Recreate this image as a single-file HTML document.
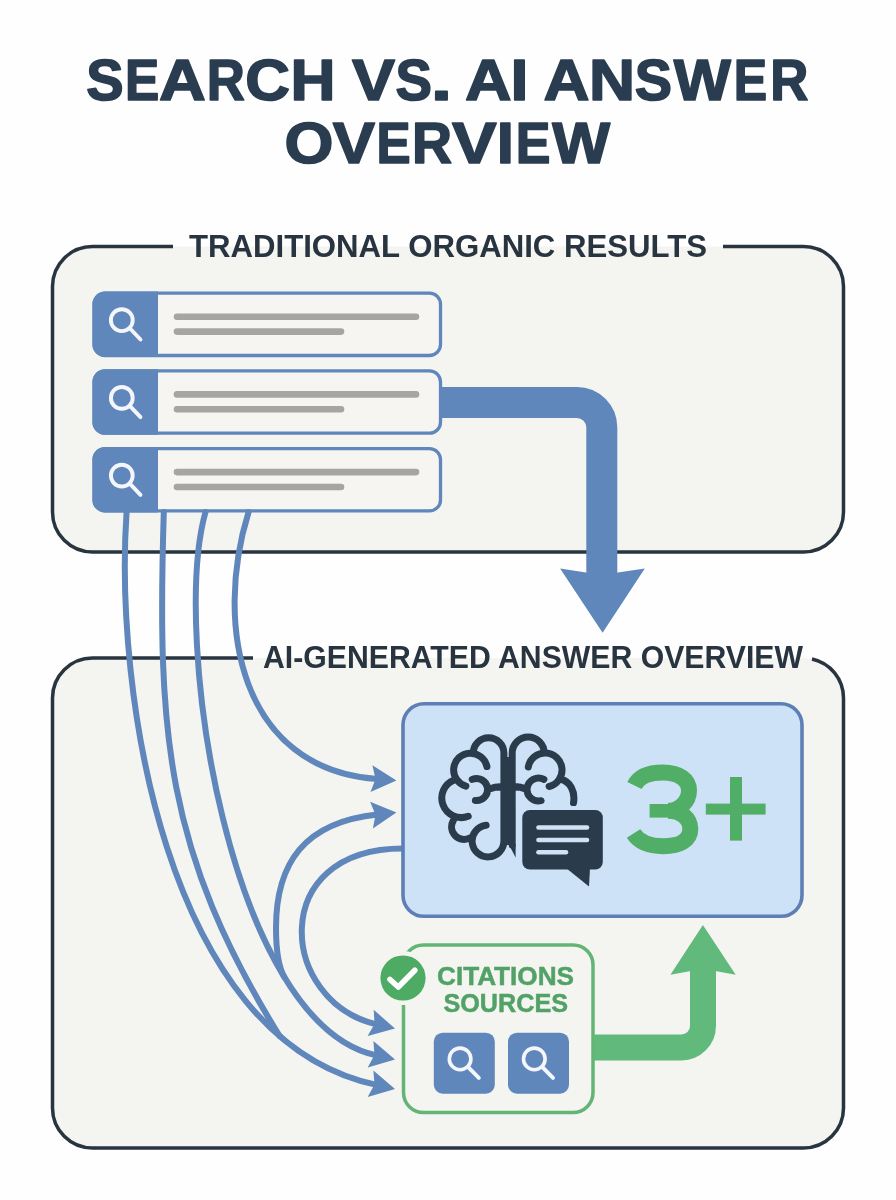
<!DOCTYPE html>
<html><head><meta charset="utf-8">
<style>
html,body{margin:0;padding:0;background:#fefefe;}
body{width:896px;height:1200px;overflow:hidden;position:relative;font-family:"Liberation Sans",sans-serif;}
svg{position:absolute;left:0;top:0;will-change:transform;}
.bl{fill:none;stroke:#5f87bc;stroke-width:6;stroke-linecap:round;}
.ah{fill:#5f87bc;}
text{font-family:"Liberation Sans",sans-serif;font-weight:bold;}
</style></head>
<body>
<svg width="896" height="1200" viewBox="0 0 896 1200">
<!-- Title -->
<!--TITLE-->
<text transform="translate(86.18 100.00) scale(0.9768 1)" font-size="57.41" fill="#2a3d50" stroke="#2a3d50" stroke-width="1.60" stroke-linejoin="round">S</text>
<text transform="translate(125.07 100.00) scale(0.8941 1)" font-size="57.41" fill="#2a3d50" stroke="#2a3d50" stroke-width="1.60" stroke-linejoin="round">E</text>
<text transform="translate(158.89 100.00) scale(1.1293 1)" font-size="57.41" fill="#2a3d50" stroke="#2a3d50" stroke-width="1.60" stroke-linejoin="round">A</text>
<text transform="translate(206.67 100.00) scale(0.9192 1)" font-size="57.41" fill="#2a3d50" stroke="#2a3d50" stroke-width="1.60" stroke-linejoin="round">R</text>
<text transform="translate(245.16 100.00) scale(1.0789 1)" font-size="57.41" fill="#2a3d50" stroke="#2a3d50" stroke-width="1.60" stroke-linejoin="round">C</text>
<text transform="translate(290.38 100.00) scale(1.0858 1)" font-size="57.41" fill="#2a3d50" stroke="#2a3d50" stroke-width="1.60" stroke-linejoin="round">H</text>
<text transform="translate(352.06 100.00) scale(1.1250 1)" font-size="57.41" fill="#2a3d50" stroke="#2a3d50" stroke-width="1.60" stroke-linejoin="round">V</text>
<text transform="translate(395.48 100.00) scale(0.9521 1)" font-size="57.41" fill="#2a3d50" stroke="#2a3d50" stroke-width="1.60" stroke-linejoin="round">S</text>
<text transform="translate(430.86 100.00) scale(1.3454 1)" font-size="57.41" fill="#2a3d50" stroke="#2a3d50" stroke-width="1.60" stroke-linejoin="round">.</text>
<text transform="translate(465.09 100.00) scale(1.1241 1)" font-size="57.41" fill="#2a3d50" stroke="#2a3d50" stroke-width="1.60" stroke-linejoin="round">A</text>
<text transform="translate(510.38 100.00) scale(1.1245 1)" font-size="57.41" fill="#2a3d50" stroke="#2a3d50" stroke-width="1.60" stroke-linejoin="round">I</text>
<text transform="translate(543.61 100.00) scale(1.1111 1)" font-size="57.41" fill="#2a3d50" stroke="#2a3d50" stroke-width="1.60" stroke-linejoin="round">A</text>
<text transform="translate(589.03 100.00) scale(1.1110 1)" font-size="57.41" fill="#2a3d50" stroke="#2a3d50" stroke-width="1.60" stroke-linejoin="round">N</text>
<text transform="translate(634.69 100.00) scale(0.9739 1)" font-size="57.41" fill="#2a3d50" stroke="#2a3d50" stroke-width="1.60" stroke-linejoin="round">S</text>
<text transform="translate(673.74 100.00) scale(1.0540 1)" font-size="57.41" fill="#2a3d50" stroke="#2a3d50" stroke-width="1.60" stroke-linejoin="round">W</text>
<text transform="translate(733.71 100.00) scale(0.8708 1)" font-size="57.41" fill="#2a3d50" stroke="#2a3d50" stroke-width="1.60" stroke-linejoin="round">E</text>
<text transform="translate(770.27 100.00) scale(0.9192 1)" font-size="57.41" fill="#2a3d50" stroke="#2a3d50" stroke-width="1.60" stroke-linejoin="round">R</text>
<text transform="translate(284.47 163.10) scale(1.1108 1)" font-size="56.69" fill="#2a3d50" stroke="#2a3d50" stroke-width="1.60" stroke-linejoin="round">O</text>
<text transform="translate(332.67 163.10) scale(1.1179 1)" font-size="56.69" fill="#2a3d50" stroke="#2a3d50" stroke-width="1.60" stroke-linejoin="round">V</text>
<text transform="translate(376.58 163.10) scale(0.9024 1)" font-size="56.69" fill="#2a3d50" stroke="#2a3d50" stroke-width="1.60" stroke-linejoin="round">E</text>
<text transform="translate(411.89 163.10) scale(0.9782 1)" font-size="56.69" fill="#2a3d50" stroke="#2a3d50" stroke-width="1.60" stroke-linejoin="round">R</text>
<text transform="translate(451.94 163.10) scale(1.1800 1)" font-size="56.69" fill="#2a3d50" stroke="#2a3d50" stroke-width="1.60" stroke-linejoin="round">V</text>
<text transform="translate(496.67 163.10) scale(1.0900 1)" font-size="56.69" fill="#2a3d50" stroke="#2a3d50" stroke-width="1.60" stroke-linejoin="round">I</text>
<text transform="translate(515.72 163.10) scale(0.9181 1)" font-size="56.69" fill="#2a3d50" stroke="#2a3d50" stroke-width="1.60" stroke-linejoin="round">E</text>
<text transform="translate(552.34 163.10) scale(1.0807 1)" font-size="56.69" fill="#2a3d50" stroke="#2a3d50" stroke-width="1.60" stroke-linejoin="round">W</text>
<!--/TITLE-->

<!-- Panel 1 -->
<rect x="52.5" y="246.5" width="791" height="305.5" rx="40" fill="#f4f4f0"/>
<path d="M173 246.5 H92.5 A40 40 0 0 0 52.5 286.5 V512 A40 40 0 0 0 92.5 552 H803.5 A40 40 0 0 0 843.5 512 V286.5 A40 40 0 0 0 803.5 246.5 H723" fill="none" stroke="#28343f" stroke-width="3.5"/>
<text x="189" y="257" font-size="31" fill="#28343f" textLength="518" lengthAdjust="spacingAndGlyphs">TRADITIONAL ORGANIC RESULTS</text>

<!-- Panel 2 -->
<rect x="52.5" y="658" width="791" height="490" rx="40" fill="#f4f4f0"/>
<path d="M253 658 H92.5 A40 40 0 0 0 52.5 698 V1108 A40 40 0 0 0 92.5 1148 H803.5 A40 40 0 0 0 843.5 1108 V698 A40 40 0 0 0 812 659" fill="none" stroke="#28343f" stroke-width="3.5"/>
<text x="263" y="667.5" font-size="30.5" fill="#28343f" textLength="540" lengthAdjust="spacingAndGlyphs">AI-GENERATED ANSWER OVERVIEW</text>

<!-- Search rows -->
<g id="row">
<rect x="94" y="293.2" width="346.5" height="62.3" rx="11" fill="#f6f5f2" stroke="#5f87bc" stroke-width="3.3"/>
<path d="M105 291.5 H158 V357 H105 A12.5 12.5 0 0 1 92.5 344.5 V304 A12.5 12.5 0 0 1 105 291.5Z" fill="#5f87bc"/>
<circle cx="121.8" cy="320.2" r="10.9" fill="none" stroke="#f4f6fb" stroke-width="3.9"/>
<line x1="130.5" y1="329" x2="140.5" y2="339.5" stroke="#f4f6fb" stroke-width="3.9" stroke-linecap="round"/>
<line x1="177" y1="316.7" x2="416" y2="316.7" stroke="#a5a5a3" stroke-width="6.6" stroke-linecap="round"/>
<line x1="177" y1="331.6" x2="341" y2="331.6" stroke="#a5a5a3" stroke-width="6.6" stroke-linecap="round"/>
</g>
<use href="#row" y="77.7"/>
<use href="#row" y="155.4"/>


<!--CURVES-->
<path d="M126.6 512.0 C114.4 686.5 162.8 1039.5 376.4 1084.9" class="bl"/>
<path d="M163.8 512.0 C157.0 732.7 165.3 850.8 279.6 1036.1" class="bl"/>
<path d="M205.5 512.0 C170.8 635.7 229.6 1024.2 376.4 1055.4" class="bl"/>
<path d="M284.9 978.1 C277.6 966.1 276.0 948.0 276.0 928.0 C276.0 862.8 304.6 822.1 377.5 814.5" class="bl" style="stroke-linecap:butt"/>
<path d="M403.0 848.5 C266.2 848.5 278.9 1001.8 376.5 1024.3" class="bl"/>
<path d="M248.6 512.0 C213.5 624.7 240.2 769.5 377.4 779.1" class="bl"/>
<path d="M395.0 1088.9 L367.7 1096.9 L374.5 1084.5 L373.4 1070.5 Z" class="ah"/>
<path d="M395.0 1059.4 L367.7 1067.4 L374.5 1055.0 L373.4 1041.0 Z" class="ah"/>
<path d="M396.4 812.5 L372.9 828.5 L375.5 814.7 L370.1 801.7 Z" class="ah"/>
<path d="M395.0 1028.6 L367.6 1036.1 L374.5 1023.9 L373.7 1009.8 Z" class="ah"/>
<path d="M396.4 780.4 L370.5 792.1 L375.5 778.9 L372.4 765.2 Z" class="ah"/>
<!--/CURVES-->

<!-- Big blue arrow -->
<path d="M440 402.5 H576.8 A25 25 0 0 1 601.8 427.5 V575" fill="none" stroke="#5f87bc" stroke-width="31"/>
<path d="M560.1 568.4 L586 572.6 L617.8 572.6 L644.8 568.4 L602.6 632.7 Z" fill="#5f87bc"/>

<!-- AI box -->
<rect x="403" y="703.8" width="399" height="212.5" rx="21" fill="#cee2f7" stroke="#5d7fb5" stroke-width="3.6"/>

<!--BRAIN-->
<g fill="none" stroke="#2a3b4b" stroke-width="7" stroke-linecap="round">
<path d="M473.3 753 A15.3 15.3 0 0 1 503.9 753 L503.9 841 A15.9 15.9 0 1 1 486.1 825.2
M486.9 766.5 A16.8 16.8 0 1 0 465.9 786.1
M454.2 779.9 A19.5 19.5 0 0 0 468.2 816.3
M453.2 820.8 A12.5 12.5 0 0 0 470.2 837.8
M472.2 779.4 A11.0 11.0 0 1 1 475.4 800.4
M487.5 789.5 Q495 786.5 503 786.5
M512.2 845 L512.2 753 A16 16 0 0 1 544.2 753
M528.3 767.0 A17.0 17.0 0 1 1 549.1 786.5
M560.5 779 C570 781.5 575.5 791 573.5 803
M543.9 779.3 A11.5 11.5 0 1 0 541.1 800.7
M527 789.5 Q521 786.5 513 786.5"/>
</g>
<rect x="503.9" y="757" width="8.3" height="88" fill="#2a3b4b"/>
<path d="M508.6 844 L515.7 844 L515.6 857.5 Z" fill="#2a3b4b"/>
<rect x="518.5" y="806" width="88" height="67.5" rx="11" fill="#cee2f7"/>
<rect x="522.3" y="810" width="80.5" height="59.5" rx="7.5" fill="#2a3b4b"/>
<path d="M566 868 L590 868 L589 886.5 Z" fill="#2a3b4b"/>
<g stroke="#cfe2f6" stroke-width="4.6" stroke-linecap="round">
<line x1="538.5" y1="827.5" x2="587" y2="827.5"/>
<line x1="538.5" y1="840" x2="587" y2="840"/>
<line x1="538.5" y1="852.3" x2="566" y2="852.3"/>
</g>
<!--/BRAIN-->
<!-- 3+ -->
<path d="M634.5 785.5 C639 776.5 650 772.6 663 772.6 C679.5 772.6 689 780 689 790.5 C689 802 679 810.8 668 810.8 M668 810.8 C682 810.8 690.3 819 690.3 829 C690.3 840 680 846.2 663 846.2 C650 846.2 639 842 633.5 833.5" fill="none" stroke="#50ae66" stroke-width="16"/>
<rect x="649.6" y="804" width="22" height="13.6" fill="#50ae66"/>
<rect x="730" y="777" width="12" height="63.6" fill="#50ae66"/>
<rect x="705.8" y="803.6" width="59.8" height="11" fill="#50ae66"/>

<!-- Citations box -->
<rect x="403.5" y="945" width="189.5" height="167.5" rx="20" fill="#f4f4f0" stroke="#62b575" stroke-width="3.5"/>
<circle cx="403" cy="978" r="22.6" fill="#4dab64" stroke="#f4f4f0" stroke-width="9" paint-order="stroke"/>
<polyline points="390,979.5 398.3,987 414.8,970.3" fill="none" stroke="#fff" stroke-width="5.6" stroke-linecap="round" stroke-linejoin="round"/>
<text x="437" y="984.6" font-size="26" fill="#52a267" stroke="#52a267" stroke-width="0.5" textLength="137" lengthAdjust="spacingAndGlyphs">CITATIONS</text>
<text x="443.5" y="1012" font-size="26" fill="#52a267" stroke="#52a267" stroke-width="0.5" textLength="124.5" lengthAdjust="spacingAndGlyphs">SOURCES</text>
<g id="sq">
<rect x="433.8" y="1032.7" width="61" height="61" rx="9" fill="#5f87bc"/>
<circle cx="460.1" cy="1058.9" r="10.8" fill="none" stroke="#f4f6fb" stroke-width="3.6"/>
<line x1="468.2" y1="1067.2" x2="478.8" y2="1077.8" stroke="#f4f6fb" stroke-width="4" stroke-linecap="round"/>
</g>
<use href="#sq" x="74.2"/>

<!-- Green arrow -->
<path d="M594 1047.4 H681.5 A21.5 21.5 0 0 0 703 1026 V970" fill="none" stroke="#62b97c" stroke-width="26"/>
<path d="M670.4 974.7 L689.5 971.3 L716.6 971.3 L735.7 974.7 L702.9 925 Z" fill="#62b97c"/>

</svg>
</body></html>
